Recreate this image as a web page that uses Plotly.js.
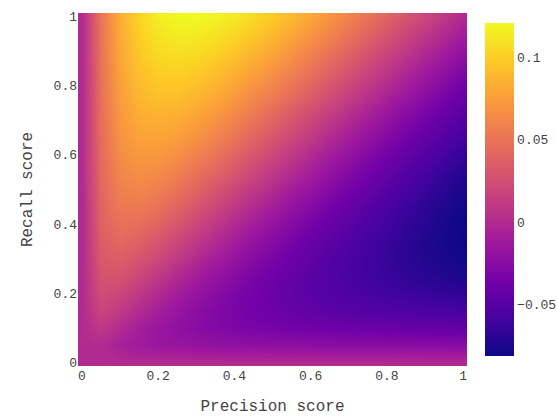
<!DOCTYPE html>
<html>
<head>
<meta charset="utf-8">
<script src="https://cdn.plot.ly/plotly-3.0.1.min.js"></script>
<style>
html,body{margin:0;padding:0;background:#fff;}
#chart{width:557px;height:416px;}
</style>
</head>
<body>
<div id="chart"></div>
<script>
// Precision (x) and recall (y) grid values
const precision = [0,0.05,0.1,0.15,0.2,0.25,0.3,0.35,0.4,0.45,0.5,0.55,0.6,0.65,0.7,0.75,0.8,0.85,0.9,0.95,1];
const recall    = [0,0.05,0.1,0.15,0.2,0.25,0.3,0.35,0.4,0.45,0.5,0.55,0.6,0.65,0.7,0.75,0.8,0.85,0.9,0.95,1];

// Score values, one row per recall level
const rowR000 = [0,0,0,0,0,0,0,0,0,0,0,0,0,0,0,0,0,0,0,0,0];
const rowR005 = [0,0,-0.0076,-0.0121,-0.0150,-0.0170,-0.0185,-0.0196,-0.0205,-0.0212,-0.0218,-0.0222,-0.0227,-0.0230,-0.0233,-0.0236,-0.0238,-0.0241,-0.0243,-0.0244,-0.0246];
const rowR010 = [0,0.0098,0,-0.0086,-0.0152,-0.0202,-0.0242,-0.0274,-0.0300,-0.0322,-0.0340,-0.0356,-0.0369,-0.0381,-0.0392,-0.0401,-0.0409,-0.0417,-0.0424,-0.0430,-0.0435];
const rowR015 = [0,0.0179,0.0100,0,-0.0089,-0.0164,-0.0227,-0.0280,-0.0325,-0.0363,-0.0396,-0.0425,-0.0450,-0.0472,-0.0492,-0.0510,-0.0526,-0.0541,-0.0554,-0.0566,-0.0577];
const rowR020 = [0,0.0240,0.0196,0.0100,0,-0.0091,-0.0171,-0.0242,-0.0303,-0.0357,-0.0404,-0.0446,-0.0484,-0.0517,-0.0548,-0.0575,-0.0600,-0.0623,-0.0644,-0.0663,-0.0680];
const rowR025 = [0,0.0287,0.0282,0.0199,0.0099,0,-0.0092,-0.0176,-0.0251,-0.0318,-0.0379,-0.0433,-0.0483,-0.0527,-0.0568,-0.0605,-0.0639,-0.0670,-0.0699,-0.0725,-0.0750];
const rowR030 = [0,0.0325,0.0357,0.0294,0.0200,0.0099,0,-0.0093,-0.0179,-0.0257,-0.0329,-0.0395,-0.0455,-0.0510,-0.0560,-0.0606,-0.0649,-0.0689,-0.0726,-0.0760,-0.0792];
const rowR035 = [0,0.0355,0.0423,0.0382,0.0298,0.0200,0.0099,0,-0.0093,-0.0181,-0.0262,-0.0337,-0.0406,-0.0471,-0.0530,-0.0586,-0.0637,-0.0685,-0.0729,-0.0771,-0.0810];
const rowR040 = [0,0.0379,0.0480,0.0462,0.0392,0.0300,0.0199,0.0098,0,-0.0094,-0.0182,-0.0265,-0.0343,-0.0415,-0.0483,-0.0547,-0.0606,-0.0662,-0.0714,-0.0763,-0.0809];
const rowR045 = [0,0.0400,0.0530,0.0536,0.0481,0.0397,0.0300,0.0199,0.0098,0,-0.0094,-0.0183,-0.0268,-0.0348,-0.0423,-0.0493,-0.0560,-0.0623,-0.0682,-0.0738,-0.0790];
const rowR050 = [0,0.0417,0.0575,0.0603,0.0564,0.0490,0.0399,0.0300,0.0198,0.0098,0,-0.0094,-0.0184,-0.0270,-0.0351,-0.0429,-0.0502,-0.0571,-0.0637,-0.0699,-0.0758];
const rowR055 = [0,0.0432,0.0614,0.0664,0.0642,0.0579,0.0495,0.0400,0.0299,0.0198,0.0098,0,-0.0094,-0.0185,-0.0272,-0.0355,-0.0433,-0.0509,-0.0580,-0.0648,-0.0713];
const rowR060 = [0,0.0445,0.0649,0.0720,0.0714,0.0664,0.0588,0.0498,0.0400,0.0299,0.0198,0.0098,0,-0.0095,-0.0186,-0.0273,-0.0357,-0.0437,-0.0514,-0.0588,-0.0658];
const rowR065 = [0,0.0457,0.0681,0.0771,0.0782,0.0745,0.0678,0.0593,0.0499,0.0400,0.0299,0.0197,0.0098,0,-0.0095,-0.0186,-0.0274,-0.0359,-0.0441,-0.0519,-0.0594];
const rowR070 = [0,0.0467,0.0709,0.0819,0.0845,0.0821,0.0764,0.0686,0.0597,0.0500,0.0400,0.0298,0.0197,0.0097,0,-0.0095,-0.0187,-0.0276,-0.0361,-0.0444,-0.0523];
const rowR075 = [0,0.0476,0.0735,0.0862,0.0905,0.0893,0.0846,0.0776,0.0692,0.0598,0.0500,0.0399,0.0298,0.0197,0.0097,0,-0.0095,-0.0187,-0.0276,-0.0363,-0.0446];
const rowR080 = [0,0.0483,0.0759,0.0902,0.0960,0.0961,0.0925,0.0863,0.0784,0.0695,0.0599,0.0500,0.0399,0.0297,0.0197,0.0097,0,-0.0095,-0.0187,-0.0277,-0.0364];
const rowR085 = [0,0.0491,0.0780,0.0939,0.1012,0.1026,0.1000,0.0946,0.0874,0.0790,0.0697,0.0600,0.0500,0.0398,0.0297,0.0196,0.0097,0,-0.0095,-0.0188,-0.0278];
const rowR090 = [0,0.0497,0.0800,0.0974,0.1061,0.1087,0.1071,0.1027,0.0962,0.0882,0.0794,0.0699,0.0600,0.0499,0.0398,0.0296,0.0196,0.0097,0,-0.0095,-0.0188];
const rowR095 = [0,0.0503,0.0818,0.1006,0.1106,0.1145,0.1140,0.1104,0.1046,0.0972,0.0888,0.0796,0.0700,0.0600,0.0499,0.0397,0.0296,0.0196,0.0097,0,-0.0095];
const rowR100 = [0,0.0508,0.0835,0.1036,0.1149,0.1200,0.1206,0.1178,0.1128,0.1060,0.0980,0.0892,0.0798,0.0700,0.0600,0.0498,0.0397,0.0296,0.0196,0.0097,0];

const scoreRows = [rowR000,rowR005,rowR010,rowR015,rowR020,rowR025,rowR030,rowR035,rowR040,rowR045,rowR050,
                   rowR055,rowR060,rowR065,rowR070,rowR075,rowR080,rowR085,rowR090,rowR095,rowR100];

const tickVals = [0,0.2,0.4,0.6,0.8,1];
const tickText = ['0','0.2','0.4','0.6','0.8','1'];

const plasma = [
  [0,'#0d0887'],[0.1111,'#46039f'],[0.2222,'#7201a8'],[0.3333,'#9c179e'],
  [0.4444,'#bd3786'],[0.5556,'#d8576b'],[0.6667,'#ed7953'],[0.7778,'#fb9f3a'],
  [0.8889,'#fdca26'],[1,'#f0f921']
];

const trace = {
  type: 'heatmap',
  x: precision,
  y: recall,
  z: scoreRows,
  colorscale: plasma,
  zsmooth: 'best',
  colorbar: {
    outlinewidth: 0,
    ticks: '',
    thickness: 29,
    tickfont: {size: 13, color: '#444'}
  }
};

const layout = {
  width: 557,
  height: 416,
  margin: {l: 78, r: 90, t: 13, b: 50, autoexpand: false},
  paper_bgcolor: '#ffffff',
  plot_bgcolor: '#ffffff',
  font: {family: '"Liberation Mono", "Courier New", monospace', size: 13, color: '#444'},
  xaxis: {
    title: {text: 'Precision score', font: {size: 16}},
    range: [-0.01, 1.01],
    tickvals: tickVals,
    ticktext: tickText,
    showgrid: false,
    zeroline: false,
    showline: false,
    ticks: ''
  },
  yaxis: {
    title: {text: 'Recall score', font: {size: 16}, standoff: 16},
    automargin: false,
    range: [-0.01, 1.01],
    tickvals: tickVals,
    ticktext: tickText,
    showgrid: false,
    zeroline: false,
    showline: false,
    ticks: ''
  }
};

Plotly.newPlot('chart', [trace], layout, {displayModeBar: false, staticPlot: true});
</script>
</body>
</html>
